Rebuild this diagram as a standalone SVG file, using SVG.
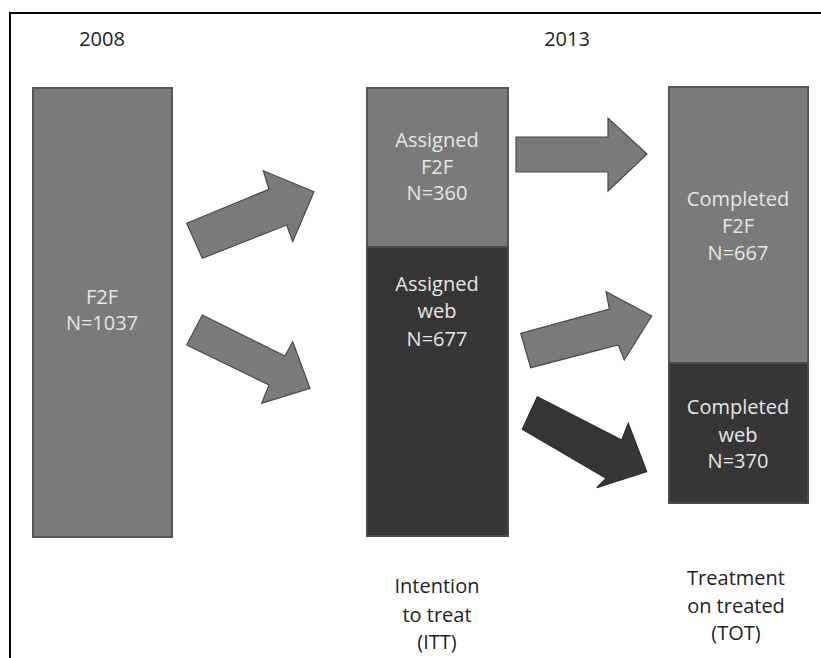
<svg xmlns="http://www.w3.org/2000/svg" width="821" height="658" viewBox="0 0 821 658">
<style>
.lbl{font-family:"Open Sans","DejaVu Sans",sans-serif;font-size:20px;fill:#222;text-anchor:middle}
.in{font-family:"Open Sans","DejaVu Sans",sans-serif;font-size:20px;fill:#e6e6e6;text-anchor:middle}
.gbox{fill:#7a7a7a;stroke:#555;stroke-width:2}
.dbox{fill:#363636;stroke:#4a4a4a;stroke-width:2}
.garr{fill:#7a7a7a;stroke:#4a4a4a;stroke-width:1.2;stroke-linejoin:miter}
.darr{fill:#363636;stroke:#2a2a2a;stroke-width:1.2}
</style>
<rect width="821" height="658" fill="#fff"/>
<path d="M10,658 V13 H821" fill="none" stroke="#000" stroke-width="2"/>
<text class="lbl" x="102" y="46">2008</text>
<text class="lbl" x="567" y="46">2013</text>
<g id="f2f2008">
<rect class="gbox" x="33" y="88" width="139" height="449"/>
<text class="in" x="102" y="304">F2F</text>
<text class="in" x="102" y="330">N=1037</text>
</g>
<g id="assignedF2F">
<rect class="gbox" x="367" y="88" width="141" height="159"/>
<text class="in" x="437" y="147">Assigned</text>
<text class="in" x="437" y="174">F2F</text>
<text class="in" x="437" y="200">N=360</text>
</g>
<g id="assignedWeb">
<rect class="dbox" x="367" y="247" width="141" height="289"/>
<text class="in" x="437" y="291">Assigned</text>
<text class="in" x="437" y="318">web</text>
<text class="in" x="437" y="346">N=677</text>
</g>
<g id="completedF2F">
<rect class="gbox" x="669" y="87" width="139" height="276"/>
<text class="in" x="738" y="206">Completed</text>
<text class="in" x="738" y="233">F2F</text>
<text class="in" x="738" y="260">N=667</text>
</g>
<g id="completedWeb">
<rect class="dbox" x="669" y="363" width="139" height="140"/>
<text class="in" x="738" y="414">Completed</text>
<text class="in" x="738" y="442">web</text>
<text class="in" x="738" y="468">N=370</text>
</g>
<g id="itt">
<text class="lbl" x="437" y="593">Intention</text>
<text class="lbl" x="437" y="622">to treat</text>
<text class="lbl" x="437" y="649">(ITT)</text>
</g>
<g id="tot">
<text class="lbl" x="736" y="585">Treatment</text>
<text class="lbl" x="736" y="613">on treated</text>
<text class="lbl" x="736" y="640">(TOT)</text>
</g>
<g id="connectors">
<polygon class="garr" points="186.7,223.3 269,189.3 263.3,170.7 314,191.7 292.7,241.7 286.7,225 202.3,258.3"/>
<polygon class="garr" points="202.3,315 285,356 292.7,341.7 310,388.3 261.7,403.3 269,385 186.7,345"/>
<polygon class="garr" points="516,137 608,137 608,118 647,154 608,191 608,172 516,172"/>
<polygon class="garr" points="520.7,333.3 609.3,309 606,291.7 651.7,316 624.3,360 618.3,345 530.7,367.7"/>
<polygon class="darr" points="537.3,396.7 621.7,440 628.3,423.3 646.7,471.7 596.7,487.7 606,478.3 522.3,429.3"/>
</g>
</svg>
